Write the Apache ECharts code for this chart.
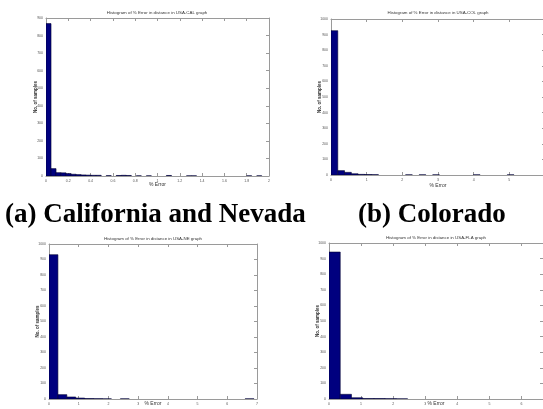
<!DOCTYPE html>
<html>
<head>
<meta charset="utf-8">
<script src="https://cdn.jsdelivr.net/npm/echarts@6/dist/echarts.min.js"></script>
<style>html,body{margin:0;padding:0;background:#fff}#c{width:543px;height:409px}</style>
</head>
<body>
<div id="c"></div>
<script>
// ---- Data ----
const titles = [
  'Histogram of % Error in distance in USA-CAL graph',
  'Histogram of % Error in distance in USA-COL graph',
  'Histogram of % Error in distance in USA-NE graph',
  'Histogram of % Error in distance in USA-FLA graph'
];
const captions = ['(a) California and Nevada', '(b) Colorado'];
const xAxisName = '% Error';
const yAxisName = 'No. of samples';

// x-axis ranges and tick steps
const xMaxA = 2, xStepA = 0.2;
const xMaxB = 6, xStepB = 1;
const xMaxC = 7, xStepC = 1;
const xMaxD = 6.67, xStepD = 1;
// y-axis ranges
const yMaxA = 900, yMaxB = 1000, yMaxC = 1000, yMaxD = 1000;
const yStep = 100;

// histogram bin widths
const binWidthA = 0.045;
const binWidthB = 0.19;
const binWidthC = 0.3;
const binWidthD = 0.35;

// histogram counts (bins start at 0)
const countsA = [868, 42, 19, 18, 14, 10, 8, 6, 5, 4, 4, 0, 2, 0, 3, 4, 3, 0, 1, 0, 1, 0, 0, 0, 3, 0, 0, 0, 1, 1, 0, 0, 0, 0, 0, 0, 0, 0, 0, 0, 1, 0, 1, 0];
const countsB = [925, 28, 17, 8, 4, 3, 2, 0, 0, 0, 0, 1, 0, 1, 0, 1, 0, 0, 0, 0, 0, 1, 0, 0, 0, 0, 1, 0, 0, 0];
const countsC = [931, 28, 13, 6, 3, 2, 1, 0, 1, 0, 0, 0, 0, 0, 0, 0, 0, 0, 0, 0, 0, 0, 1, 0];
const countsD = [942, 30, 8, 3, 3, 2, 1, 0, 0, 0, 0, 0, 0, 0, 0, 0, 0, 0, 0];

// ---- Build ----
const panels = [
  {counts: countsA, bw: binWidthA, xMax: xMaxA, xStep: xStepA, yMax: yMaxA,
   grid: {left: 46, top: 18, width: 223, height: 158}, titlePos: [157, 13], xGap: 6.5, yGap: 7.5},
  {counts: countsB, bw: binWidthB, xMax: xMaxB, xStep: xStepB, yMax: yMaxB,
   grid: {left: 331, top: 19, width: 214, height: 156}, titlePos: [438, 13], xGap: 8.5, yGap: 9},
  {counts: countsC, bw: binWidthC, xMax: xMaxC, xStep: xStepC, yMax: yMaxC,
   grid: {left: 49, top: 244, width: 208, height: 155}, titlePos: [153, 239], xGap: 2, yGap: 9},
  {counts: countsD, bw: binWidthD, xMax: xMaxD, xStep: xStepD, yMax: yMaxD,
   grid: {left: 329, top: 243, width: 214, height: 156}, titlePos: [436, 238], xGap: 2, yGap: 9}
];

const axisCol = '#9a9a9a';
const labelCol = '#555';
const grids = [], xAxes = [], yAxes = [], series = [], graphics = [];
const plain = v => String(Math.round(v * 1000) / 1000);

panels.forEach((p, i) => {
  grids.push(Object.assign({containLabel: false, outerBoundsMode: 'none'}, p.grid));
  const whole = Math.abs(p.xMax / p.xStep - Math.round(p.xMax / p.xStep)) < 1e-6;
  const commonX = {type: 'value', gridIndex: i, min: 0, max: p.xMax, interval: p.xStep,
    splitLine: {show: false},
    axisLine: {show: true, onZero: false, lineStyle: {color: axisCol, width: 1}},
    axisTick: {show: true, inside: true, length: 3, lineStyle: {color: axisCol}}};
  xAxes.push(Object.assign({}, commonX, {position: 'bottom',
    name: xAxisName, nameLocation: 'middle', nameGap: p.xGap, nameMoveOverlap: false,
    nameTextStyle: {fontSize: 5, color: '#333', fontFamily: 'Liberation Sans'},
    axisLabel: {show: true, fontSize: 3.5, margin: 3, color: labelCol, fontFamily: 'Liberation Sans',
      formatter: plain, showMaxLabel: whole}}));
  xAxes.push(Object.assign({}, commonX, {position: 'top', axisLabel: {show: false}}));
  const commonY = {type: 'value', gridIndex: i, min: 0, max: p.yMax, interval: yStep,
    splitLine: {show: false},
    axisLine: {show: true, onZero: false, lineStyle: {color: axisCol, width: 1}},
    axisTick: {show: true, inside: true, length: 3, lineStyle: {color: axisCol}}};
  yAxes.push(Object.assign({}, commonY, {position: 'left',
    name: yAxisName, nameLocation: 'middle', nameGap: p.yGap, nameRotate: 90, nameMoveOverlap: false,
    nameTextStyle: {fontSize: 4.5, fontWeight: 'bold', color: '#333', fontFamily: 'Liberation Sans'},
    axisLabel: {show: true, fontSize: 3.5, margin: 3, color: labelCol, fontFamily: 'Liberation Sans', formatter: plain}}));
  yAxes.push(Object.assign({}, commonY, {position: 'right', axisLabel: {show: false}}));

  const data = [];
  p.counts.forEach((c, k) => { if (c > 0) data.push([k * p.bw, (k + 1) * p.bw, c]); });
  series.push({
    type: 'custom', xAxisIndex: 2 * i, yAxisIndex: 2 * i, data: data, clip: true,
    renderItem: function (params, api) {
      const a = api.coord([api.value(0), api.value(2)]);
      const b = api.coord([api.value(1), 0]);
      return {type: 'rect', shape: {x: a[0], y: a[1], width: b[0] - a[0], height: b[1] - a[1]},
        style: {fill: '#00007f', stroke: '#000030', lineWidth: 0.6}};
    }
  });

  graphics.push({type: 'text', x: p.titlePos[0], y: p.titlePos[1],
    style: {text: titles[i], fontSize: 4.4, fontFamily: 'Liberation Sans', fill: '#333',
      textAlign: 'center', textVerticalAlign: 'middle'}});
});

graphics.push({type: 'text', x: 5, y: 215, style: {text: captions[0],
  font: 'bold 27px "Liberation Serif"', fill: '#000', textAlign: 'left', textVerticalAlign: 'middle'}});
graphics.push({type: 'text', x: 358, y: 215, style: {text: captions[1],
  font: 'bold 27px "Liberation Serif"', fill: '#000', textAlign: 'left', textVerticalAlign: 'middle'}});

const chart = echarts.init(document.getElementById('c'), null, {renderer: 'canvas'});
chart.setOption({
  backgroundColor: '#fff',
  animation: false,
  grid: grids, xAxis: xAxes, yAxis: yAxes, series: series, graphic: graphics
});
</script>
</body>
</html>
